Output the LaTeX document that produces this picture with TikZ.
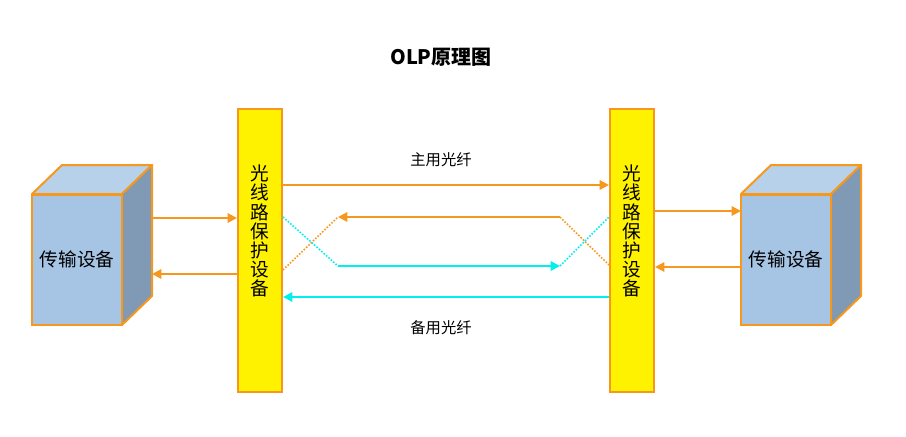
\documentclass[tikz,border=0pt]{standalone}
\usepackage{fontspec}
\setmainfont{Noto Sans CJK SC}
\usetikzlibrary{arrows.meta}
\definecolor{olpor}{RGB}{247,152,30}
\definecolor{cubefront}{RGB}{166,196,228}
\definecolor{cubetop}{RGB}{184,209,234}
\definecolor{cubeside}{RGB}{128,153,180}
\definecolor{olpcyan}{RGB}{0,240,240}
\tikzset{
  front/.style={draw=olpor, line width=1.5pt, fill=cubefront, minimum width=67.5pt, minimum height=97.5pt, inner sep=0pt, font=\fontsize{14}{16}\selectfont},
  topface/.style={draw=olpor, line width=1.5pt, fill=cubetop, line join=round},
  sideface/.style={draw=olpor, line width=1.5pt, fill=cubeside, line join=round},
  olpbar/.style={draw=olpor, line width=1.5pt, fill=yellow, minimum width=33pt, minimum height=212pt, inner sep=0pt},
  bartext/.style={align=center, inner sep=0pt, font=\fontsize{14}{14.3}\selectfont},
  tip/.style={-{Triangle[length=7pt,width=7pt]}},
  oline/.style={draw=olpor, line width=1.5pt},
  cline/.style={draw=olpcyan, line width=1.5pt},
  odot/.style={draw=olpor, line width=1.2pt, dash pattern=on 1.2pt off 1.2pt},
  cdot/.style={draw=olpcyan, line width=1.2pt, dash pattern=on 1.2pt off 1.2pt},
  lbl/.style={font=\fontsize{11.5}{13}\selectfont, inner sep=0pt}
}
\begin{document}
\begin{tikzpicture}[x=0.75pt,y=-0.75pt]
\useasboundingbox (0,0) rectangle (906,436);
% title
\node[font=\fontsize{15}{18}\selectfont\bfseries] (title) at (441,57) {OLP原理图};
% left cube
\path[topface] (32,194) -- (62,165) -- (152,165) -- (122,194) -- cycle;
\path[sideface] (122,194) -- (152,165) -- (152,296) -- (122,325) -- cycle;
\node[front] (lcube) at (77,259.5) {传输设备};
% right cube
\path[topface] (741,194) -- (771,165) -- (861,165) -- (831,194) -- cycle;
\path[sideface] (831,194) -- (861,165) -- (861,296) -- (831,325) -- cycle;
\node[front] (rcube) at (786,259.5) {传输设备};
% bars
\node[olpbar] (lbar) at (260,250.5) {};
\node[olpbar] (rbar) at (632,250.5) {};
\node[bartext] (ltext) at (260,231) {光\\线\\路\\保\\护\\设\\备};
\node[bartext] (rtext) at (632,231) {光\\线\\路\\保\\护\\设\\备};
% cube side coordinates
\coordinate (lside1) at (152,218);
\coordinate (lside2) at (152,274);
\coordinate (rside1) at (741,211);
\coordinate (rside2) at (741,267);
% cube <-> bar
\draw[oline,tip] (lside1) -- (lside1 -| lbar.west);
\draw[oline,tip] (lside2 -| lbar.west) -- (lside2);
\draw[oline,tip] (rside1 -| rbar.east) -- (rside1);
\draw[oline,tip] (rside2) -- (rside2 -| rbar.east);
% main fiber
\coordinate (m1) at (282,185);
\draw[oline,tip] (m1 -| lbar.east) -- (m1 -| rbar.west);
\node[lbl] (mainlbl) at (441,160) {主用光纤};
% backup fiber
\coordinate (b1) at (282,297);
\draw[cline,tip] (b1 -| rbar.west) -- (b1 -| lbar.east);
\node[lbl] (backlbl) at (441,328) {备用光纤};
% crossings
\coordinate (oa) at (338,217);
\coordinate (ob) at (560,217);
\coordinate (ca) at (338,266);
\coordinate (cb) at (560,266);
\coordinate (ol) at (282,270);
\coordinate (orr) at (610,265);
\coordinate (cl) at (282,217);
\coordinate (cr) at (610,217);
\draw[odot] (ol -| lbar.east) -- (oa);
\draw[oline,tip] (ob) -- (oa);
\draw[odot] (ob) -- (orr -| rbar.west);
\draw[cdot] (cl -| lbar.east) -- (ca);
\draw[cline,tip] (ca) -- (cb);
\draw[cdot] (cb) -- (cr -| rbar.west);
\end{tikzpicture}
\end{document}
